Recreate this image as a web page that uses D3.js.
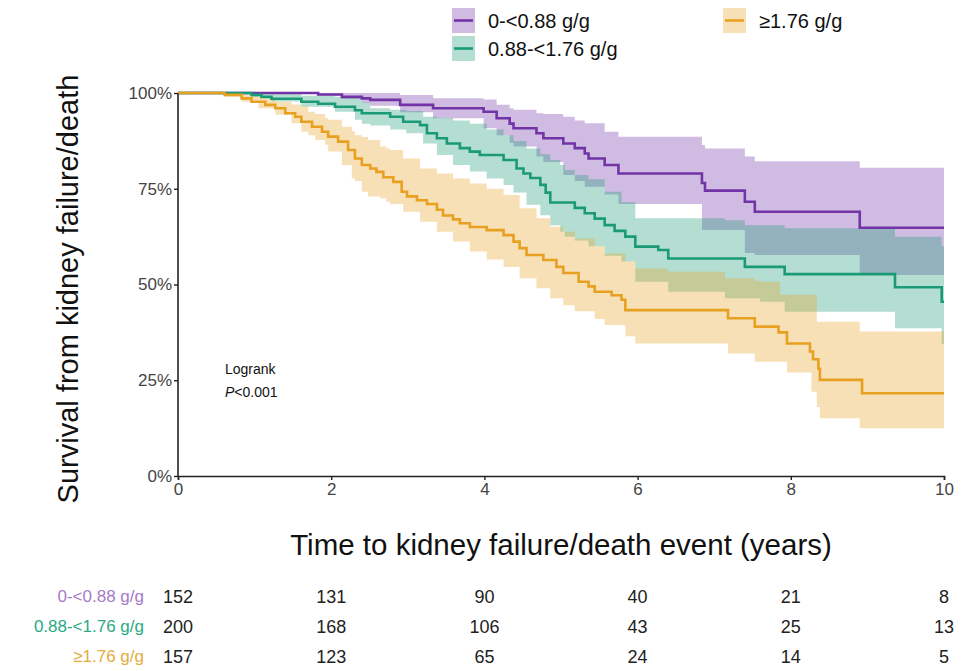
<!DOCTYPE html>
<html><head><meta charset="utf-8">
<script src="https://cdn.jsdelivr.net/npm/d3@7"></script>
<style>body{margin:0;background:#fff}svg{display:block}</style>
</head><body><svg id="c" width="963" height="671"></svg>
<script>
// ---------- data ----------
const groups = ["0-<0.88 g/g", "0.88-<1.76 g/g", "≥1.76 g/g"];
const xTicks = [0, 2, 4, 6, 8, 10];
const yTicks = [0, 25, 50, 75, 100];
const riskTimes = [0, 2, 4, 6, 8, 10];
const riskLow = [152, 131, 90, 40, 21, 8];
const riskMid = [200, 168, 106, 43, 25, 13];
const riskHigh = [157, 123, 65, 24, 14, 5];

// 0-<0.88 g/g
const lowTime = [0,1.83,2.14,2.40,2.51,2.90,3.33,3.99,4.16,4.33,4.38,4.68,4.77,5.03,5.18,5.31,5.36,5.57,5.75,6.84,6.88,7.40,7.53,8.90,10];
const lowSurv = [100,99.6,99.0,98.6,98.2,96.9,96.0,95.1,93.4,92.0,90.8,89.5,88.2,86.8,85.6,84.2,82.9,81.2,79.0,76.5,74.5,71.6,69.0,64.8,64.8];
const lowBandTime = [0,1.83,2.14,2.40,2.51,2.90,3.33,3.99,4.16,4.33,4.38,4.68,4.77,5.03,5.18,5.31,5.57,5.75,6.84,6.88,7.40,7.53,8.90,10];
const lowLower = [100,99.3,98.5,97.4,96.7,95.0,93.4,90.8,89.0,87.0,86.0,83.4,82.0,78.6,77.0,75.5,73.5,71.0,64.2,64.2,58.2,57.7,52.5,52.5];
const lowUpper = [100,100,100,100,100,99.5,98.6,98.3,96.9,96.0,95.6,94.7,94.5,93.8,92.8,92.1,89.9,88.6,86.4,85.5,83.4,82.2,80.5,80.5];

// 0.88-<1.76 g/g
const midTime = [0,0.96,1.09,1.22,1.61,1.83,2.05,2.31,2.40,2.77,2.94,3.16,3.25,3.38,3.51,3.68,3.81,3.94,4.25,4.42,4.51,4.60,4.73,4.80,4.86,5.18,5.31,5.44,5.57,5.70,5.84,5.97,6.27,6.40,7.40,7.92,9.36,9.97,10];
const midSurv = [100,99.5,99.0,98.5,97.7,97.2,96.4,95.5,94.7,93.8,92.5,91.6,89.5,88.2,86.8,85.6,84.7,83.8,82.5,80.3,79.0,77.8,76.0,74.0,71.4,70.0,68.6,67.2,65.5,64.0,62.5,59.9,59.0,56.8,54.6,52.7,49.3,45.5,45.5];
const midBandTime = [0,0.96,1.22,1.61,2.05,2.31,2.40,2.51,2.77,2.98,3.20,3.38,3.59,3.81,4.03,4.25,4.38,4.55,4.73,4.86,4.99,5.05,5.18,5.36,5.57,5.79,5.97,6.40,7.14,7.40,7.60,7.92,9.36,9.97,10];
const midLower = [100,99.0,97.8,96.4,95.1,93.0,92.0,91.5,90.5,89.5,86.8,83.8,81.2,79.5,77.7,76.0,74.0,70.8,68.1,65.5,63.8,62.5,61.5,60.0,57.5,56.0,50.7,48.1,46.4,46.4,45.5,42.9,38.6,34.5,34.5];
const midUpper = [100,100,100,99.3,99.0,98.6,97.5,96.0,95.6,95.3,93.8,93.5,92.8,92.0,90.5,89.0,87.5,85.5,84.0,82.5,81.2,79.9,78.6,77.5,74.2,71.5,67.3,67.3,66.8,65.5,65.5,64.7,62.5,60.0,60.0];

// ≥1.76 g/g
const highTime = [0,0.61,0.83,0.96,1.14,1.27,1.40,1.53,1.61,1.75,1.88,1.96,2.09,2.22,2.31,2.40,2.51,2.59,2.68,2.81,2.92,2.99,3.12,3.25,3.38,3.46,3.59,3.68,3.81,4.03,4.25,4.38,4.46,4.55,4.77,4.94,5.03,5.23,5.36,5.44,5.66,5.79,5.84,7.18,7.53,7.84,7.95,8.25,8.29,8.36,8.38,8.93,10];
const highSurv = [100,99.5,98.6,97.7,96.9,96.0,94.7,93.8,92.5,91.2,89.9,88.6,87.3,85.1,82.9,81.2,80.3,79.4,78.0,76.8,74.2,73.0,72.0,71.0,69.5,68.0,67.0,66.0,65.0,64.2,62.9,61.2,59.5,57.7,56.4,54.6,53.0,50.7,49.5,48.1,47.2,46.0,43.3,41.2,39.0,37.5,34.6,32.5,30.5,28.0,25.1,21.6,21.6];
const highBandTime = [0,0.61,0.83,1.05,1.27,1.48,1.61,1.70,1.79,1.92,1.96,2.14,2.27,2.31,2.40,2.48,2.64,2.72,2.77,2.94,3.16,3.38,3.59,3.81,4.03,4.25,4.46,4.68,4.86,5.03,5.18,5.44,5.57,5.84,5.97,6.40,7.14,7.18,7.53,7.60,7.86,7.95,8.27,8.34,8.38,8.90,10];
const highLower = [100,99.0,97.7,96.0,94.3,92.1,89.9,89.0,87.7,86.5,84.7,81.2,77.7,77.0,74.2,73.0,72.5,71.6,71.0,69.0,66.4,63.8,61.2,58.6,56.5,54.6,51.6,49.0,46.4,44.6,43.0,41.0,39.4,36.5,34.6,34.6,34.6,32.0,29.8,29.8,29.8,27.0,22.0,18.0,15.1,12.5,12.5];
const highUpper = [100,100,99.6,99.0,97.7,97.0,96.5,95.1,94.5,93.4,93.0,91.2,90.0,89.0,88.5,87.7,86.0,85.5,85.1,82.9,80.3,79.0,77.7,76.4,75.0,73.4,69.9,67.3,65.1,63.8,62.0,60.0,58.1,56.0,54.2,53.3,51.6,51.6,51.0,50.7,47.3,47.3,47.3,40.3,40.3,37.7,37.7];

const lineColors = ["#7133A6", "#1A9A76", "#E8A020"];
const labelColors = ["#A57BC8", "#2BA985", "#E3AD3E"];

// ---------- build ----------
const series = [
  {name: groups[0], t: lowTime, s: lowSurv, bt: lowBandTime, lo: lowLower, up: lowUpper, risk: riskLow},
  {name: groups[1], t: midTime, s: midSurv, bt: midBandTime, lo: midLower, up: midUpper, risk: riskMid},
  {name: groups[2], t: highTime, s: highSurv, bt: highBandTime, lo: highLower, up: highUpper, risk: riskHigh}
];

const svg = d3.select("#c");
const fontMain = "'Liberation Sans', Arial, Helvetica, sans-serif";

const x = d3.scaleLinear().domain([0, 10]).range([178, 944]);
const y = d3.scaleLinear().domain([0, 100]).range([476, 93]);

const gBands = svg.append("g");
const gLines = svg.append("g");

const area = d3.area().curve(d3.curveStepAfter)
  .x(d => x(d[0])).y0(d => y(d[1])).y1(d => y(d[2]));
const line = d3.line().curve(d3.curveStepAfter)
  .x(d => x(d[0])).y(d => y(d[1]));

series.forEach((s, i) => {
  const bd = s.bt.map((t, k) => [t, s.lo[k], s.up[k]]);
  gBands.append("path").attr("d", area(bd))
    .attr("fill", lineColors[i]).attr("fill-opacity", 0.33).attr("stroke", "none");
});
series.forEach((s, i) => {
  const ld = s.t.map((t, k) => [t, s.s[k]]);
  gLines.append("path").attr("d", line(ld))
    .attr("fill", "none").attr("stroke", lineColors[i]).attr("stroke-width", 2.6);
});

// axes
const xAxis = d3.axisBottom(x).tickValues(xTicks).tickSize(4).tickPadding(3).tickFormat(d3.format("d"));
const yAxis = d3.axisLeft(y).tickValues(yTicks).tickSize(4).tickPadding(2).tickFormat(d => d + "%");
const gx = svg.append("g").attr("transform", "translate(0,476)").call(xAxis);
const gy = svg.append("g").attr("transform", "translate(178,0)").call(yAxis);
[gx, gy].forEach(g => {
  g.attr("font-size", null).attr("font-family", null);
  g.select(".domain").attr("stroke", "#222").attr("stroke-width", 1.6);
  g.selectAll(".tick line").attr("stroke", "#222").attr("stroke-width", 1.4);
  g.selectAll(".tick text").attr("fill", "#444").style("font-family", fontMain).style("font-size", "17px");
});
gy.select(".domain").attr("d", "M0,93.5V476.5");

// axis titles
svg.append("text").attr("x", 561).attr("y", 555).attr("text-anchor", "middle")
  .style("font-family", fontMain).style("font-size", "29.5px").attr("fill", "#111")
  .text("Time to kidney failure/death event (years)");
svg.append("text").attr("transform", "translate(78,289) rotate(-90)").attr("text-anchor", "middle")
  .style("font-family", fontMain).style("font-size", "29px").attr("fill", "#111")
  .text("Survival from kidney failure/death");

// annotation
svg.append("text").attr("x", 225).attr("y", 374).style("font-family", fontMain)
  .style("font-size", "14px").attr("fill", "#111").text("Logrank");
const pt = svg.append("text").attr("x", 225).attr("y", 397).style("font-family", fontMain)
  .style("font-size", "14px").attr("fill", "#111");
pt.append("tspan").style("font-style", "italic").text("P");
pt.append("tspan").text("<0.001");

// legend
const legPos = [[452, 8], [452, 36], [723, 8]];
series.forEach((s, i) => {
  const [lx, ly] = legPos[i];
  const g = svg.append("g").attr("transform", `translate(${lx},${ly})`);
  g.append("rect").attr("width", 23).attr("height", 25).attr("fill", lineColors[i]).attr("fill-opacity", 0.33);
  g.append("line").attr("x1", 2).attr("x2", 21).attr("y1", 12.5).attr("y2", 12.5)
    .attr("stroke", lineColors[i]).attr("stroke-width", 2.6);
  g.append("text").attr("x", 36).attr("y", 20).style("font-family", fontMain)
    .style("font-size", "20px").attr("fill", "#111").text(s.name);
});

// risk table
const rowY = [603, 633, 663];
series.forEach((s, i) => {
  svg.append("text").attr("x", 144).attr("y", rowY[i] - 1).attr("text-anchor", "end")
    .style("font-family", fontMain).style("font-size", "17px").attr("fill", labelColors[i]).text(s.name);
  svg.selectAll(null).data(riskTimes).enter().append("text")
    .attr("x", d => x(d)).attr("y", rowY[i]).attr("text-anchor", "middle")
    .style("font-family", fontMain).style("font-size", "18px").attr("fill", "#222")
    .text((d, k) => s.risk[k]);
});
</script>
</body></html>
